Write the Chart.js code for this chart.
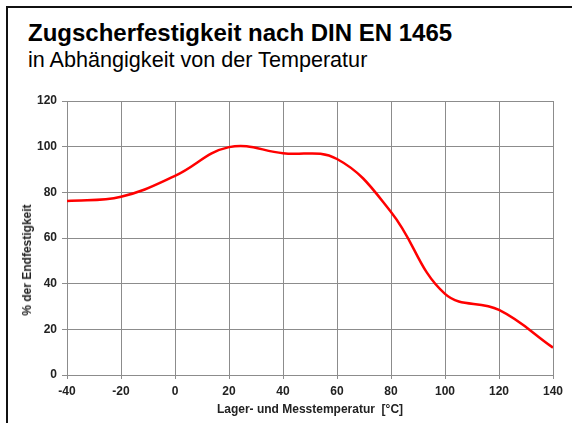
<!DOCTYPE html>
<html>
<head>
<meta charset="utf-8">
<script src="https://cdn.jsdelivr.net/npm/chart.js@4/dist/chart.umd.min.js"></script>
<style>
  html, body { margin: 0; padding: 0; background: #fff; }
  #wrap { position: relative; width: 572px; height: 423px; overflow: hidden; font-family: "Liberation Sans", Arial, sans-serif; }
  #frame { position: absolute; left: 6px; top: 6px; width: 570px; height: 420px; border-top: 2px solid #111; border-left: 2px solid #111; }
  #title { position: absolute; left: 28px; top: 21px; font-size: 24px; line-height: 24px; font-weight: bold; color: #000; white-space: nowrap; }
  #subtitle { position: absolute; left: 28px; top: 49px; font-size: 21.6px; line-height: 21px; color: #000; white-space: nowrap; }
  #ytitle { position: absolute; left: 27px; top: 260px; transform: translate(-50%, -50%) rotate(-90deg); font-size: 12px; line-height: 12px; font-weight: bold; color: #222; white-space: nowrap; }
  canvas { position: absolute; left: 0; top: 0; }
</style>
</head>
<body>
<div id="wrap">
  <div id="frame"></div>
  <div id="title">Zugscherfestigkeit nach DIN EN 1465</div>
  <div id="subtitle">in Abhängigkeit von der Temperatur</div>
  <canvas id="c" width="572" height="423"></canvas>
  <div id="ytitle">% der Endfestigkeit</div>
</div>
<script>
const temperatures = [-40, -20, 0, 20, 40, 60, 80, 100, 120, 140];
const strengthPercent = [76.2, 78.1, 87.2, 99.8, 97.1, 94.6, 71.4, 35.5, 28.5, 12];
const xTickValues = [-40, -20, 0, 20, 40, 60, 80, 100, 120, 140];
const yTickValues = [0, 20, 40, 60, 80, 100, 120];
const xAxisTitle = "Lager- und Messtemperatur  [°C]";

const points = temperatures.map((t, i) => ({ x: t, y: strengthPercent[i] }));
const tickFont = { family: "'Liberation Sans', Arial, sans-serif", size: 12, weight: 'bold' };

new Chart(document.getElementById('c'), {
  type: 'line',
  data: {
    datasets: [{
      data: points,
      borderColor: '#ff0000',
      borderWidth: 2.5,
      pointRadius: 0,
      fill: false,
      tension: 0.4
    }]
  },
  options: {
    responsive: false,
    animation: false,
    devicePixelRatio: 1,
    layout: { padding: { left: 0, right: 19, top: 101, bottom: 0 } },
    plugins: { legend: { display: false }, tooltip: { enabled: false }, title: { display: false } },
    scales: {
      x: {
        type: 'linear',
        min: -40, max: 140,
        afterBuildTicks: s => { s.ticks = xTickValues.map(v => ({ value: v })); },
        afterFit: s => { s.height = 48; },
        grid: { color: '#8c8c8c', lineWidth: 1, tickLength: 4, drawTicks: true },
        border: { color: '#8c8c8c', width: 1 },
        ticks: { font: tickFont, color: '#222', padding: 5, maxRotation: 0, autoSkip: false },
        title: { display: true, text: xAxisTitle, font: tickFont, color: '#222', padding: { top: 0, bottom: 6 } }
      },
      y: {
        type: 'linear',
        min: 0, max: 120,
        afterBuildTicks: s => { s.ticks = yTickValues.map(v => ({ value: v })); },
        afterFit: s => { s.width = 67; },
        grid: { color: '#8c8c8c', lineWidth: 1, tickLength: 5, drawTicks: true },
        border: { color: '#8c8c8c', width: 1 },
        ticks: { font: tickFont, color: '#222', padding: 5, autoSkip: false }
      }
    }
  }
});
</script>
</body>
</html>
